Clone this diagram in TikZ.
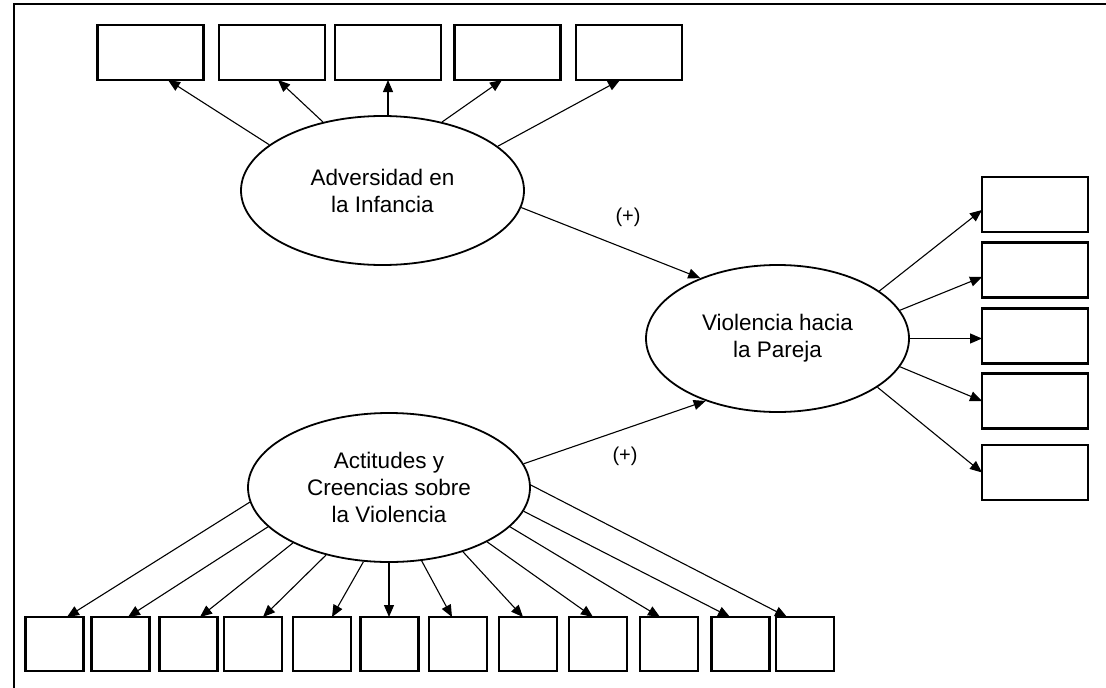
\documentclass[tikz,border=0pt]{standalone}
\usepackage{fontspec}
\setmainfont{Liberation Sans}
\usepackage{tikz}
\usetikzlibrary{positioning,shapes.geometric,arrows.meta}

\begin{document}
\begin{tikzpicture}[x=1pt, y=-1pt,
  lat/.style = {ellipse, draw, line width=1.8pt, inner sep=0pt, align=center, font=\fontsize{22.5}{27}\selectfont},
  obs/.style = {draw, line width=2.2pt, minimum width=106pt, minimum height=55pt, inner sep=0pt, outer sep=0pt},
  sm/.style = {draw, line width=2.2pt, minimum width=58pt, minimum height=54pt, inner sep=0pt, outer sep=0pt},
  sign/.style = {font=\fontsize{20}{24}\selectfont},
  arr/.style = {line width=1.1pt, -{Triangle[length=12pt, width=10pt]}}]
\useasboundingbox (0,0) rectangle (1106,688);
\draw[line width=2.4pt] (14,700) -- (14,4) -- (1120,4);

% latent variables
\node[lat, minimum width=283pt, minimum height=149pt] (adv) at (382.5,190.5) {Adversidad en\\la Infancia};
\node[lat, minimum width=263pt, minimum height=147pt] (viol) at (777.5,338.5) {Violencia hacia\\la Pareja};
\node[lat, minimum width=282pt, minimum height=149pt] (act) at (389,487.5) {Actitudes y\\Creencias sobre\\la Violencia};

% top indicators
\node[obs] (t1) at (150.5,52.5) {};
\node[obs] (t2) [right=15.5pt of t1] {};
\node[obs] (t3) [right=10pt of t2] {};
\node[obs] (t4) [right=13.5pt of t3] {};
\node[obs] (t5) [right=15.5pt of t4] {};

% right indicators
\node[obs] (r1) at (1035,204.5) {};
\node[obs] (r2) [below=10.5pt of r1] {};
\node[obs] (r3) [below=11pt of r2] {};
\node[obs] (r4) [below=10pt of r3] {};
\node[obs] (r5) [below=16.5pt of r4] {};

% bottom indicators
\node[sm] (b1) at (54.5,644) {};
\node[sm] (b2) [right=8pt of b1] {};
\node[sm] (b3) [right=10pt of b2] {};
\node[sm] (b4) [right=6.5pt of b3] {};
\node[sm] (b5) [right=11pt of b4] {};
\node[sm] (b6) [right=9.5pt of b5] {};
\node[sm] (b7) [right=10.5pt of b6] {};
\node[sm] (b8) [right=12pt of b7] {};
\node[sm] (b9) [right=12pt of b8] {};
\node[sm] (b10) [right=13pt of b9] {};
\node[sm] (b11) [right=13.5pt of b10] {};
\node[sm] (b12) [right=6.5pt of b11] {};

\node[sign] (p1) at (628,217) {(+)};
\node[sign] (p2) at (625,456) {(+)};

\draw[arr] (adv.158) -- ([xshift=17.5pt]t1.south);
\draw[arr] (adv.131) -- ([xshift=6pt]t2.south);
\draw[arr] (adv.north -| t3.south) -- (t3.south);
\draw[arr] (adv.49) -- ([xshift=-5.5pt]t4.south);
\draw[arr] (adv.21) -- ([xshift=-9pt]t5.south);

\draw[arr] (viol.25) -- ([yshift=-5.5pt]r1.west);
\draw[arr] (viol.13) -- ([yshift=-7pt]r2.west);
\draw[arr] (viol.east) -- (viol.east -| r3.west);
\draw[arr] (viol.-13) -- (r4.west);
\draw[arr] (viol.-26) -- (r5.west);

\draw[arr] (act.186) -- ([xshift=12.5pt]b1.north);
\draw[arr] (act.198) -- ([xshift=7.5pt]b2.north);
\draw[arr] (act.210) -- ([xshift=11.5pt]b3.north);
\draw[arr] (act.227) -- ([xshift=10pt]b4.north);
\draw[arr] (act.251) -- ([xshift=10pt]b5.north);
\draw[arr] (act.south) -- (act.south |- b6.north);
\draw[arr] (act.294) -- ([xshift=-6pt]b7.north);
\draw[arr] (act.319) -- ([xshift=-5pt]b8.north);
\draw[arr] (act.331) -- ([xshift=-5pt]b9.north);
\draw[arr] (act.342) -- ([xshift=-9pt]b10.north);
\draw[arr] (act.350) -- ([xshift=-10.5pt]b11.north);
\draw[arr] (act.1) -- ([xshift=-18pt]b12.north);

\draw[arr] (adv.-7) -- (viol.142);
\draw[arr] (act.10) -- (viol.221);
\end{tikzpicture}
\end{document}
